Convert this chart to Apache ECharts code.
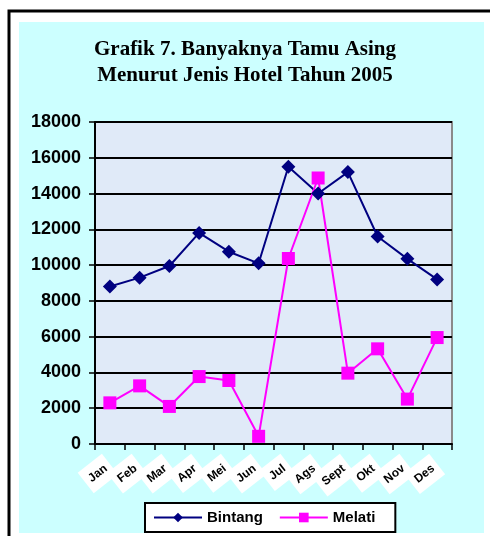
<!DOCTYPE html>
<html>
<head>
<meta charset="utf-8">
<script src="https://cdn.jsdelivr.net/npm/echarts@6/dist/echarts.min.js"></script>
<style>
  html, body { margin: 0; padding: 0; background: #fff; }
  #chart { width: 490px; height: 536px; }
</style>
</head>
<body>
<div id="chart"></div>
<script>
// data
const months = ['Jan', 'Feb', 'Mar', 'Apr', 'Mei', 'Jun', 'Jul', 'Ags', 'Sept', 'Okt', 'Nov', 'Des']
const bintang = [8800, 9300, 9950, 11800, 10750, 10100, 15500, 14000, 15200, 11600, 10350, 9200]
const melati = [2300, 3250, 2100, 3770, 3550, 430, 10370, 14870, 3960, 5320, 2510, 5950]
const yTicks = { min: 0, max: 18000, interval: 2000 }

const chart = echarts.init(document.getElementById('chart'))

const option = {
  backgroundColor: '#fff',
  animation: false,
  graphic: [
    { type: 'rect', shape: { x: 9, y: 11, width: 490, height: 540 }, style: { fill: '#fff', stroke: '#000', lineWidth: 3 }, z: -10 },
    { type: 'rect', shape: { x: 19, y: 22, width: 465, height: 511 }, style: { fill: '#ccffff' }, z: -9 }
  ],
  title: {
    text: 'Grafik 7. Banyaknya Tamu Asing\nMenurut Jenis Hotel Tahun 2005',
    left: 'center',
    top: 32,
    textStyle: {
      fontFamily: 'Liberation Serif',
      fontWeight: 'bold',
      fontSize: 21,
      lineHeight: 26,
      color: '#000'
    }
  },
  legend: {
    bottom: 4,
    left: 145,
    itemGap: 16,
    itemWidth: 48,
    itemHeight: 12,
    backgroundColor: '#fff',
    borderColor: '#000',
    borderWidth: 2,
    padding: [7, 20, 7, 8],
    textStyle: { fontFamily: 'Liberation Sans', fontWeight: 'bold', fontSize: 15, color: '#000' },
    data: ['Bintang', 'Melati']
  },
  grid: {
    left: 95, right: 38, top: 122, bottom: 92,
    show: true,
    backgroundColor: '#e0eaf8',
    borderColor: '#8a8a8a',
    borderWidth: 2
  },
  xAxis: {
    type: 'category',
    data: months,
    boundaryGap: true,
    axisLine: { lineStyle: { color: '#000', width: 2 } },
    axisTick: { show: true, length: 6, lineStyle: { color: '#000', width: 1.5 } },
    axisLabel: {
      interval: 0,
      rotate: 38,
      margin: 20,
      fontFamily: 'Liberation Sans',
      fontWeight: 'bold',
      fontSize: 12,
      color: '#000',
      backgroundColor: '#fff',
      padding: [7, 5]
    }
  },
  yAxis: {
    type: 'value',
    min: yTicks.min,
    max: yTicks.max,
    interval: yTicks.interval,
    axisLine: { show: true, lineStyle: { color: '#000', width: 2 } },
    axisTick: { show: true, length: 6, lineStyle: { color: '#000', width: 1.5 } },
    axisLabel: {
      margin: 14,
      formatter: v => String(v),
      fontFamily: 'Liberation Sans',
      fontWeight: 'bold',
      fontSize: 18,
      color: '#000'
    },
    splitLine: { lineStyle: { color: '#000', width: 2 } }
  },
  series: [
    {
      name: 'Bintang',
      type: 'line',
      data: bintang,
      symbol: 'diamond',
      symbolSize: 14,
      lineStyle: { color: '#000080', width: 2 },
      itemStyle: { color: '#000080' }
    },
    {
      name: 'Melati',
      type: 'line',
      data: melati,
      symbol: 'rect',
      symbolSize: 13,
      lineStyle: { color: '#ff00ff', width: 2 },
      itemStyle: { color: '#ff00ff' }
    }
  ]
}

chart.setOption(option)
</script>
</body>
</html>
